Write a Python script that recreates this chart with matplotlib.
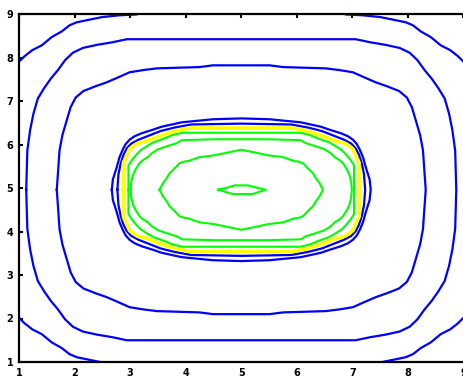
import numpy as np
import matplotlib
matplotlib.use("Agg")
import matplotlib.pyplot as plt

# ----------------------------
# DATA (contour lines, offsets from the centre)
# upper-left quadrant, from the left middle point to the top middle point
# ----------------------------
cx, cy = 5.0, 4.96

ticks = [1, 2, 3, 4, 5, 6, 7, 8, 9]

# corner arcs (leave the frame)
arc_dx = [-4.15, -4.01, -3.90, -3.76, -3.59, -3.41, -3.23, -3.09, -2.96, -2.77, -2.50, -2.19, -1.88, -1.60]
arc_dy = [2.75, 2.93, 3.07, 3.21, 3.32, 3.51, 3.64, 3.78, 3.85, 3.90, 3.97, 4.01, 4.03, 4.20]

blue1_dx = [-3.87, -3.85, -3.80, -3.74, -3.66, -3.55, -3.43, -3.30, -3.17, -3.03, -2.85, -2.60, -2.32, -2.06, 0]
blue1_dy = [0, 0.90, 1.37, 1.75, 2.10, 2.33, 2.55, 2.75, 2.98, 3.15, 3.26, 3.33, 3.39, 3.46, 3.46]

blue2_dx = [-3.32, -3.27, -3.22, -3.14, -3.07, -2.98, -2.84, -2.62, -2.42, -2.22, -2.01, -1.77, -1.52, -0.75, -0.51, 0]
blue2_dy = [0, 0.91, 1.25, 1.60, 1.90, 2.12, 2.27, 2.38, 2.47, 2.58, 2.70, 2.75, 2.79, 2.82, 2.86, 2.86]

blue3_dx = [-2.33, -2.31, -2.28, -2.24, -2.19, -2.13, -2.08, -2.01, -1.92, -1.79, -1.59, -1.43, -1.07, -0.51, 0]
blue3_dy = [0, 0.24, 0.36, 0.52, 0.75, 0.93, 1.05, 1.15, 1.23, 1.30, 1.38, 1.45, 1.55, 1.62, 1.64]

blue4_dx = [-2.23, -2.21, -2.17, -2.12, -2.06, -1.98, -1.85, -1.65, -1.45, -1.20, -0.90, 0]
blue4_dy = [0, 0.35, 0.60, 0.80, 0.95, 1.06, 1.15, 1.25, 1.35, 1.43, 1.50, 1.52]

yellow_dx = [-2.12, -2.12, -2.07, -2.01, -1.88, -1.70, -1.52, -1.34, -1.16, -0.93, 0]
yellow_dy = [0, 0.63, 0.75, 0.94, 1.06, 1.12, 1.21, 1.29, 1.36, 1.42, 1.42]

green1_dx = [-2.03, -2.03, -1.97, -1.90, -1.81, -1.70, -1.58, -1.38, -1.25, -1.07, 0]
green1_dy = [0, 0.56, 0.68, 0.79, 0.91, 1.00, 1.09, 1.18, 1.25, 1.31, 1.31]

green2_dx = [-1.99, -1.98, -1.95, -1.91, -1.83, -1.77, -1.68, -1.61, -1.50, -1.34, -1.16, -1.07, -0.48, 0]
green2_dy = [0, 0.17, 0.33, 0.45, 0.61, 0.68, 0.75, 0.84, 0.93, 1.00, 1.07, 1.14, 1.16, 1.16]

green3_dx = [-1.47, -1.41, -1.34, -1.29, -1.20, -1.11, -1.02, -0.95, -0.75, -0.49, -0.23, 0]
green3_dy = [0, 0.15, 0.27, 0.38, 0.49, 0.61, 0.65, 0.66, 0.75, 0.79, 0.86, 0.92]

# small lens in the middle (full outline)
lens_dx = [-0.42, -0.25, -0.12, 0.12, 0.27, 0.44, 0.20, -0.15, -0.42]
lens_dy = [0, 0.05, 0.10, 0.10, 0.05, 0, -0.10, -0.10, 0]

BLUE = "#0000ff"
GREEN = "#00ff00"
YELLOW = "#ffff00"


def full_ring(dx, dy):
    dx = np.asarray(dx, dtype=float)
    dy = np.asarray(dy, dtype=float)
    ux = np.concatenate([dx, -dx[::-1][1:]])
    uy = np.concatenate([dy, dy[::-1][1:]])
    xs = np.concatenate([ux, ux[::-1][1:]])
    ys = np.concatenate([uy, -uy[::-1][1:]])
    return cx + xs, cy + ys


fig = plt.figure(figsize=(4.64, 3.79), dpi=100)
ax = fig.add_axes([19 / 464, 17 / 379, 444.5 / 464, 348 / 379])

# corner arcs
adx = np.asarray(arc_dx)
ady = np.asarray(arc_dy)
for sx in (1, -1):
    for sy in (1, -1):
        ax.plot(cx + sx * adx, cy + sy * ady, color=BLUE, lw=1.6)

rings = [
    (blue1_dx, blue1_dy, BLUE, 1.6),
    (blue2_dx, blue2_dy, BLUE, 1.6),
    (blue3_dx, blue3_dy, BLUE, 1.6),
    (blue4_dx, blue4_dy, BLUE, 1.6),
    (yellow_dx, yellow_dy, YELLOW, 2.6),
    (green1_dx, green1_dy, GREEN, 1.5),
    (green2_dx, green2_dy, GREEN, 1.5),
    (green3_dx, green3_dy, GREEN, 1.5),
]
for rdx, rdy, col, lw in rings:
    xs, ys = full_ring(rdx, rdy)
    ax.plot(xs, ys, color=col, lw=lw)

ax.plot(cx + np.asarray(lens_dx), cy + np.asarray(lens_dy), color=GREEN, lw=1.5)

ax.set_xlim(1, 9)
ax.set_ylim(1, 9)
ax.set_xticks(ticks)
ax.set_yticks(ticks)
ax.set_xticklabels([str(t) for t in ticks], fontsize=7, fontweight="bold")
ax.set_yticklabels([str(t) for t in ticks], fontsize=7, fontweight="bold")
ax.tick_params(axis="x", direction="in", top=True, bottom=False, labelbottom=True,
               length=3, width=1.5, pad=4)
ax.tick_params(axis="y", direction="in", left=True, right=False, length=3, width=1.5, pad=4)

for side in ("left", "bottom", "top"):
    ax.spines[side].set_linewidth(1.6)
ax.spines["right"].set_visible(False)

fig.savefig("out.png", dpi=100)
